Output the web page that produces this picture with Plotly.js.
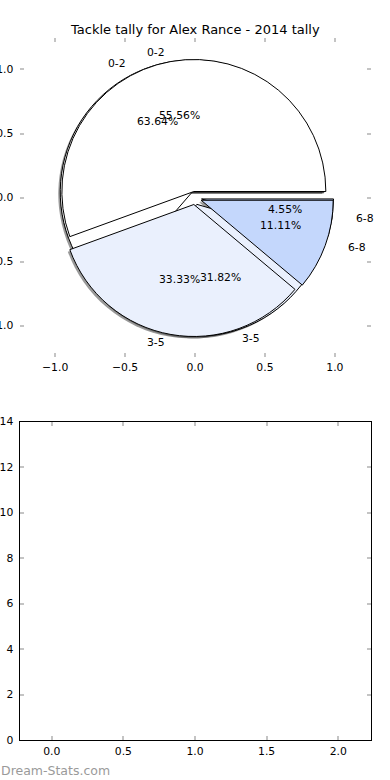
<!DOCTYPE html>
<html>
<head>
<meta charset="utf-8">
<script src="https://cdn.plot.ly/plotly-3.0.1.min.js"></script>
<style>
  html, body { margin: 0; padding: 0; background: #ffffff; }
  #chart { width: 390px; height: 780px; }
</style>
</head>
<body>
<div id="chart"></div>
<script>
// ---- data ----
const chartTitle = 'Tackle tally for Alex Rance - 2014 tally';
const tallyBands = ['0-2', '3-5', '6-8'];
const tallyBack  = [14, 7, 1];   // 63.64%, 31.82%, 4.55%
const tallyFront = [5, 3, 1];    // 55.56%, 33.33%, 11.11%
const sliceColors = ['#ffffff', '#eaf0fd', '#c4d7fc'];
const pieTicks = [-1.0, -0.5, 0.0, 0.5, 1.0];
const lowerXTicks = [0.0, 0.5, 1.0, 1.5, 2.0];
const lowerYTicks = [0, 2, 4, 6, 8, 10, 12, 14];
const watermark = 'Dream-Stats.com';

// ---- layout geometry (pixels of the 390x780 figure) ----
const W = 390, H = 780;
const px = v => v / W;
const py = v => 1 - v / H;
const FONT = 'DejaVu Sans, Liberation Sans, sans-serif';
const pull = 0.05;
const cx = 195, cy = 198, rPx = 132;
const half = rPx * (1 + pull);
function pieDomain(dx, dy) {
  return {
    x: [px(cx - half + dx), px(cx + half + dx)],
    y: [py(cy + half + dy), py(cy - half + dy)]
  };
}

// first wedge starts at 3 o'clock and wedges run counter-clockwise (matplotlib default)
function startRotation(vals) {
  const total = vals.reduce((a, b) => a + b, 0);
  return 90 - 360 * vals[0] / total;
}

function pieTrace(vals, colors, dom, lineW) {
  return {
    type: 'pie',
    labels: tallyBands,
    values: vals,
    sort: false,
    direction: 'counterclockwise',
    rotation: startRotation(vals),
    pull: pull,
    textinfo: 'none',
    hoverinfo: 'label+percent',
    showlegend: false,
    marker: { colors: colors, line: { color: lineW ? '#000000' : 'rgba(0,0,0,0)', width: lineW } },
    domain: dom
  };
}
const shadowColors = tallyBands.map(() => 'rgba(70,70,70,0.55)');

const traces = [
  pieTrace(tallyFront, shadowColors, pieDomain(-2, 2), 0),
  pieTrace(tallyBack, shadowColors, pieDomain(-2, 2), 0),
  pieTrace(tallyBack, sliceColors, pieDomain(0, 0), 1),
  pieTrace(tallyFront, sliceColors, pieDomain(0, 0), 1),
  // empty lower panel (axes only)
  { type: 'scatter', x: [], y: [], xaxis: 'x2', yaxis: 'y2', showlegend: false }
];

// ---- matplotlib-style labels, positioned from the values ----
const annotations = [];
function pieLabels(vals) {
  const total = vals.reduce((a, b) => a + b, 0);
  let cum = 0;
  vals.forEach((v, i) => {
    const mid = 2 * Math.PI * (cum + v / 2) / total;
    cum += v;
    const c = Math.cos(mid), s = Math.sin(mid);
    annotations.push({
      xref: 'x', yref: 'y', x: (pull + 1.1) * c, y: (pull + 1.1) * s,
      text: tallyBands[i], showarrow: false,
      xanchor: c > 0 ? 'left' : 'right', yanchor: 'middle',
      font: { family: FONT, size: 10.8, color: '#000' }
    });
    annotations.push({
      xref: 'x', yref: 'y', x: (pull + 0.6) * c, y: (pull + 0.6) * s,
      text: (100 * v / total).toFixed(2) + '%', showarrow: false,
      xanchor: 'center', yanchor: 'middle',
      font: { family: FONT, size: 10.8, color: '#000' }
    });
  });
}
pieLabels(tallyBack);
pieLabels(tallyFront);

annotations.push({
  xref: 'paper', yref: 'paper', x: px(195), y: py(30),
  text: chartTitle, showarrow: false, xanchor: 'center', yanchor: 'middle',
  font: { family: FONT, size: 13, color: '#000' }
});
annotations.push({
  xref: 'paper', yref: 'paper', x: 0, y: py(770),
  text: watermark, showarrow: false, xanchor: 'left', yanchor: 'middle',
  borderpad: 0,
  font: { family: FONT, size: 12.5, color: '#9a9a9a' }
});

const tickFont = { family: FONT, size: 10.8, color: '#000' };
const commonAxis = {
  showgrid: false, zeroline: false, ticks: 'inside', ticklen: 4,
  tickwidth: 2, tickcolor: '#c4c4c4', tickfont: tickFont, fixedrange: true
};

const layout = {
  width: W, height: H,
  margin: { l: 0, r: 0, t: 0, b: 0, pad: 0 },
  paper_bgcolor: '#ffffff', plot_bgcolor: 'rgba(0,0,0,0)',
  showlegend: false,
  xaxis: Object.assign({}, commonAxis, {
    domain: [px(19.5), px(370.5)], range: [-1.255, 1.255],
    tickmode: 'array', tickvals: pieTicks, tickformat: '.1f',
    showline: true, linecolor: 'rgba(0,0,0,0)', mirror: 'ticks', anchor: 'y',
    ticklabelstandoff: 0
  }),
  yaxis: Object.assign({}, commonAxis, {
    domain: [py(357), py(38)], range: [-1.246, 1.246],
    tickmode: 'array', tickvals: pieTicks, tickformat: '.1f',
    showline: true, linecolor: 'rgba(0,0,0,0)', mirror: 'ticks', anchor: 'x',
    ticklabelstandoff: 3
  }),
  xaxis2: Object.assign({}, commonAxis, {
    domain: [px(19.5), px(370.5)], range: [-0.225, 2.225],
    tickmode: 'array', tickvals: lowerXTicks, tickformat: '.1f',
    showline: true, linecolor: '#000', linewidth: 1, mirror: 'ticks', anchor: 'y2',
    ticklabelstandoff: 1
  }),
  yaxis2: Object.assign({}, commonAxis, {
    domain: [py(740), py(421.5)], range: [0, 14],
    tickmode: 'array', tickvals: lowerYTicks,
    showline: true, linecolor: '#000', linewidth: 1, mirror: 'ticks', anchor: 'x2',
    ticklabelstandoff: 3
  }),
  annotations: annotations
};

Plotly.newPlot('chart', traces, layout, { staticPlot: true, displayModeBar: false });
</script>
</body>
</html>
